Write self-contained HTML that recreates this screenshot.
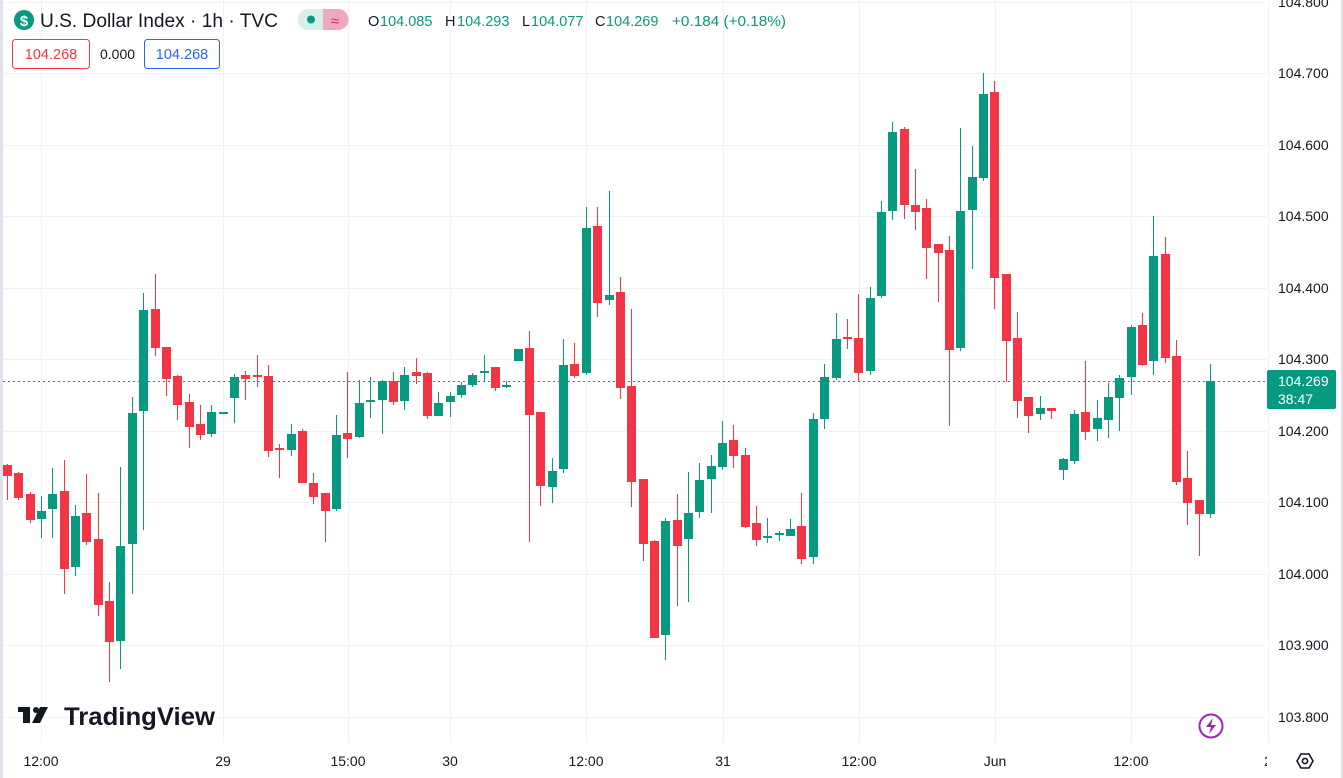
<!DOCTYPE html>
<html><head><meta charset="utf-8"><style>
html,body{margin:0;padding:0;background:#fff;width:1343px;height:778px;overflow:hidden;font-family:"Liberation Sans",sans-serif}
svg{position:absolute;left:0;top:0}
</style></head><body>
<svg id="s" width="1343" height="778" xmlns="http://www.w3.org/2000/svg">
<rect x="0" y="0" width="1343" height="778" fill="#fff"/>
<rect x="0" y="0" width="3" height="778" fill="#e0e3eb"/>
<rect x="1341" y="0" width="2" height="778" fill="#e0e3eb"/>
<g id="grid" stroke="#f0f2f5" stroke-width="1"></g>
<line x1="3" y1="381.5" x2="1267" y2="381.5" stroke="#089981" stroke-width="1" stroke-dasharray="2,3"/>
<g id="c"></g>
<g font-size="14" fill="#131722" id="yl"></g>
<rect x="1267" y="370" width="69" height="39" rx="2" fill="#089981"/>
<text x="1278" y="386" font-size="14" fill="#fff">104.269</text>
<text x="1278" y="404" font-size="14" fill="#fff">38:47</text>
<g font-size="14" fill="#131722" text-anchor="middle">
<text x="41" y="766">12:00</text><text x="223" y="766">29</text><text x="348" y="766">15:00</text>
<text x="450" y="766">30</text><text x="586" y="766">12:00</text><text x="723" y="766">31</text>
<text x="859" y="766">12:00</text><text x="995" y="766">Jun</text><text x="1131" y="766">12:00</text>
<text x="1268" y="766">2</text></g>
<rect x="1267" y="748" width="74" height="30" fill="#fff"/>
<g transform="translate(1305,761)"><polygon points="-8,0 -4,-7 4,-7 8,0 4,7 -4,7" fill="none" stroke="#131722" stroke-width="1.6"/><circle r="2.6" fill="none" stroke="#131722" stroke-width="1.6"/></g>
<circle cx="1211" cy="726" r="11.5" fill="none" stroke="#9c27b0" stroke-width="2"/>
<polygon points="1213,718 1206,727 1211,727 1209,734 1216,725 1211,725" fill="#9c27b0"/>
<g transform="translate(18,707)" fill="#131722"><rect x="0" y="0" width="12" height="5"/><rect x="5" y="0" width="7" height="16"/><circle cx="18" cy="3" r="3"/><polygon points="22,0 30,0 22,16 14,16"/></g>
<text x="64" y="725" font-size="25" font-weight="bold" fill="#131722" textLength="151" lengthAdjust="spacingAndGlyphs">TradingView</text>
<circle cx="24" cy="20" r="10" fill="#089981"/>
<text x="24" y="26" font-size="15" font-weight="bold" fill="#fff" text-anchor="middle">$</text>
<text x="40" y="27" font-size="19" fill="#131722" textLength="238" lengthAdjust="spacingAndGlyphs">U.S. Dollar Index · 1h · TVC</text>
<rect x="298" y="9" width="50" height="21" rx="10" fill="#d7eeea"/>
<path d="M323 9 H338 A10 10 0 0 1 338 30 H323 Z" fill="#f0a8c0"/>
<circle cx="311" cy="19.5" r="4" fill="#089981"/>
<text x="335" y="26" font-size="15" fill="#e91e63" text-anchor="middle">≈</text>
<g font-size="14.5">
<text x="368" y="26" fill="#131722">O</text><text x="380" y="26" fill="#089981">104.085</text>
<text x="445" y="26" fill="#131722">H</text><text x="457" y="26" fill="#089981">104.293</text>
<text x="522" y="26" fill="#131722">L</text><text x="531" y="26" fill="#089981">104.077</text>
<text x="595" y="26" fill="#131722">C</text><text x="606" y="26" fill="#089981">104.269</text>
<text x="672" y="26" fill="#089981" textLength="114" lengthAdjust="spacingAndGlyphs">+0.184 (+0.18%)</text>
</g>
<rect x="12.5" y="39.5" width="77" height="29" rx="3" fill="#fff" stroke="#f23645"/>
<text x="51" y="59" font-size="14.5" fill="#f23645" text-anchor="middle">104.268</text>
<text x="100" y="59" font-size="14" fill="#131722">0.000</text>
<rect x="144.5" y="39.5" width="75" height="29" rx="3" fill="#fff" stroke="#2962ff"/>
<text x="182" y="59" font-size="14.5" fill="#2962ff" text-anchor="middle">104.268</text>
</svg>
<script>
var NS="http://www.w3.org/2000/svg";
function el(p,t,a){var e=document.createElementNS(NS,t);for(var k in a)e.setAttribute(k,a[k]);p.appendChild(e);return e;}
var g=document.getElementById('grid'),yl=document.getElementById('yl');
var ys=[2,73,145,216,288,359,431,502,574,645,717],labs=['104.800','104.700','104.600','104.500','104.400','104.300','104.200','104.100','104.000','103.900','103.800'];
ys.forEach(function(y,i){el(g,'line',{x1:3,x2:1267,y1:y+.5,y2:y+.5});var t=el(yl,'text',{x:1278,y:y+5});t.textContent=labs[i];});
[41,223,348,450,586,723,859,995,1131,1268].forEach(function(x){el(g,'line',{x1:x+.5,x2:x+.5,y1:0,y2:743});});
var R='r',G='g';
var d=[
[7,465,476,464,500,R],[18,473,498,472,500,R],[30,494,520,492,523,R],[41,511,519,496,538,G],[52,494,509,468,538,G],
[64,491,569,460,594,R],[75,516,567,505,576,G],[86,513,542,474,545,R],[98,539,605,493,616,R],[109,601,642,582,682,R],
[120,546,641,467,669,G],[132,413,544,397,594,G],[143,310,411,293,530,G],[155,309,348,274,356,R],[166,347,379,347,396,R],
[177,376,405,375,420,R],[189,402,427,394,448,R],[200,424,435,405,440,R],[211,412,434,405,437,G],[223,412,413,412,413,G],
[234,377,398,374,423,G],[245,375,379,371,400,R],[257,375,377,355,387,R],[268,376,451,365,457,R],[279,448,450,444,478,R],
[291,434,450,424,456,G],[302,431,483,429,483,R],[313,483,497,473,504,R],[325,493,511,493,542,R],[336,435,509,415,511,G],
[347,433,439,372,458,R],[359,403,437,380,438,G],[370,400,402,377,418,G],[382,381,400,380,434,G],[393,381,402,372,405,R],
[404,375,401,367,410,G],[416,372,376,358,384,R],[427,373,416,372,419,R],[438,403,416,392,416,G],[450,396,402,392,417,G],
[461,385,395,382,398,G],[472,375,385,373,387,G],[484,371,373,355,382,G],[495,367,388,367,391,R],[506,385,386,381,388,G],
[518,349,361,349,361,G],[529,348,415,331,542,R],[540,412,486,412,506,R],[552,471,487,458,503,G],[563,365,469,339,473,G],
[574,364,376,343,378,R],[586,228,373,207,375,G],[597,226,303,207,317,R],[609,295,300,191,305,G],[620,292,388,277,399,R],
[631,386,482,309,507,R],[643,479,544,479,561,R],[654,541,638,540,638,R],[665,521,635,518,660,G],[677,520,546,494,606,R],
[688,513,539,472,602,G],[699,480,512,463,518,G],[711,466,479,455,513,G],[722,443,467,421,470,G],[733,440,456,425,468,R],
[745,455,527,448,528,R],[756,523,540,506,546,R],[767,536,537,518,543,G],[779,533,534,531,541,G],[790,529,536,519,536,G],
[801,526,559,493,564,R],[813,419,557,413,564,G],[824,377,419,364,429,G],[836,339,378,313,380,G],[847,337,339,319,349,R],
[858,338,373,294,382,R],[870,298,371,287,375,G],[881,212,296,201,298,G],[892,132,211,122,220,G],[904,129,205,127,219,R],
[915,205,212,169,230,R],[926,208,248,199,279,R],[938,244,253,244,302,R],[949,250,350,236,426,R],[960,211,348,128,351,G],
[972,177,210,146,269,G],[983,94,178,73,181,G],[994,92,278,81,309,R],[1006,274,341,274,382,R],[1017,338,401,312,418,R],
[1028,397,416,397,433,R],[1040,408,414,396,420,G],[1051,408,411,408,419,R],[1063,459,470,458,480,G],[1074,414,461,410,464,G],
[1085,412,432,361,440,R],[1097,418,429,400,441,G],[1108,397,420,383,438,G],[1119,378,398,375,431,G],[1131,327,377,325,395,G],
[1142,325,365,313,366,R],[1153,256,361,216,375,G],[1165,254,358,237,363,R],[1176,356,482,340,485,R],[1187,478,503,451,525,R],
[1199,500,514,500,556,R],[1210,381,514,364,518,G]];
var c=document.getElementById('c');
d.forEach(function(a){var col=a[5]==='g'?'#089981':'#f23645';var x=a[0];
el(c,'rect',{x:x,y:a[3],width:1,height:Math.max(1,a[4]-a[3]),fill:col});
el(c,'rect',{x:x-4,y:a[1],width:9,height:Math.max(2,a[2]-a[1]),fill:col});});
</script>
</body></html>
